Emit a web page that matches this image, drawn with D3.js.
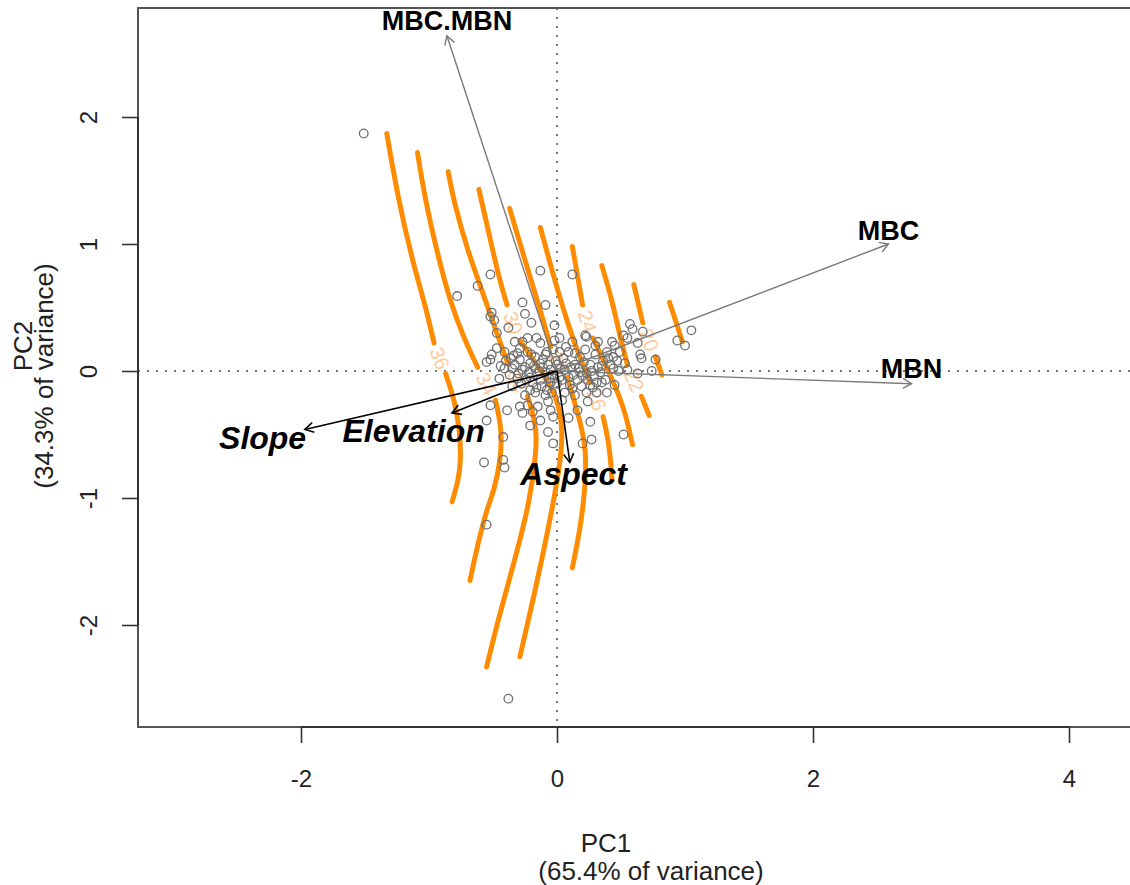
<!DOCTYPE html>
<html>
<head>
<meta charset="utf-8">
<script src="https://cdn.jsdelivr.net/npm/d3@7"></script>
<style>
  body { margin: 0; background: #fff; }
  svg { display: block; font-family: "Liberation Sans", Arial, Helvetica, sans-serif; }
</style>
</head>
<body>
<div id="chart"></div>
<script>
// site scores (PC1, PC2)
var siteX = [-1.51,-0.78,-0.62,-0.52,-0.13,0.12,-0.27,-0.09,-0.51,-0.52,
  -0.49,-0.25,-0.20,-0.02,-0.47,0.22,0.67,0.57,0.59,1.05,
  0.94,1.00,0.63,0.66,0.77,0.63,0.74,0.52,-0.55,-0.42,
  -0.52,-0.51,-0.41,-0.27,-0.29,-0.16,-0.13,-0.29,-0.21,-0.17,
  0.02,-0.08,-0.03,-0.37,-0.31,-0.27,-0.21,-0.16,-0.08,-0.05,
  0.00,0.02,0.52,0.55,0.43,0.45,0.32,0.23,0.12,0.44,
  0.47,0.44,0.48,0.39,0.40,0.53,0.55,0.30,0.32,0.24,
  0.31,0.38,0.09,0.16,0.05,0.09,0.18,0.26,0.23,-0.52,
  -0.39,-0.29,-0.23,-0.27,-0.19,-0.15,-0.07,-0.05,-0.03,-0.07,
  -0.03,-0.57,-0.42,-0.41,-0.55,-0.38,-0.21,-0.17,-0.09,-0.04,
  0.06,0.16,0.24,0.23,0.31,0.39,0.35,0.26,0.20,0.27,
  -0.55,-0.09,-0.13,0.06,0.10,-0.05,0.14,0.18,-0.33,-0.41,
  -0.45,-0.35,-0.25,-0.13,-0.09,-0.23,-0.33,-0.38,0.02,0.22,
  0.34,0.14,0.04,0.09,-0.13,-0.21,0.49,0.65,0.30,-0.02,
  -0.23,-0.34,-0.47,-0.02,-0.17,0.26,0.45,
  -0.35,-0.30,-0.25,-0.22,-0.18,-0.14,-0.11,-0.07,-0.04,-0.01,
  0.03,0.07,0.11,0.13,0.17,0.20,0.21,0.27,0.29,0.35,
  -0.28,-0.24,-0.19,-0.12,-0.06,0.00,0.04,0.12,0.19,0.28,
  -0.40,-0.36,-0.20,-0.11,0.07,0.14,0.36,0.42,-0.44,-0.31];
var siteY = [1.87,0.59,0.67,0.76,0.79,0.76,0.54,0.52,0.46,0.43,
  0.40,0.45,0.38,0.36,0.30,0.28,0.31,0.37,0.33,0.32,
  0.24,0.20,0.22,0.10,0.09,-0.02,0.00,-0.50,-0.39,-0.52,
  0.09,0.13,0.15,0.23,0.18,0.26,0.22,0.09,0.06,0.11,
  0.26,0.15,0.17,-0.03,-0.06,0.01,-0.05,-0.13,-0.15,0.01,
  0.05,-0.05,0.28,0.26,0.23,0.20,0.23,0.27,0.23,0.11,
  0.08,0.02,0.00,0.15,0.10,0.06,0.01,0.13,0.03,-0.07,
  -0.09,-0.07,-0.05,-0.07,0.10,0.15,0.11,0.05,-0.02,-0.27,
  -0.31,-0.28,-0.27,-0.33,-0.32,-0.28,-0.24,-0.31,-0.36,-0.48,
  -0.57,-0.72,-0.70,-0.76,-1.21,-2.58,-0.15,-0.17,-0.19,-0.17,
  -0.17,-0.31,-0.24,-0.17,-0.17,-0.17,-0.09,-0.40,-0.57,-0.54,
  0.07,-0.01,-0.07,0.01,-0.11,-0.09,0.05,-0.01,0.05,0.02,
  -0.06,-0.12,-0.19,0.06,0.13,0.15,0.23,0.34,0.15,0.17,
  -0.01,-0.19,-0.23,-0.37,-0.39,-0.43,0.15,0.13,0.20,0.24,
  0.26,0.12,0.18,-0.06,0.02,-0.11,-0.11,
  0.02,-0.02,0.03,-0.01,0.04,0.00,0.03,0.05,-0.03,0.08,
  0.02,0.06,0.03,-0.03,0.02,-0.04,0.07,0.00,-0.04,0.04,
  -0.10,-0.07,-0.09,-0.12,-0.06,-0.10,-0.07,-0.14,-0.12,-0.13,
  0.08,0.10,0.13,0.09,0.19,0.14,0.08,0.05,0.04,0.14];

// variable loadings (grey arrows)
var varNames = ["MBC.MBN", "MBC", "MBN"];
var varX = [-0.86, 2.59, 2.77];
var varY = [2.64, 1.00, -0.10];
var varLabX = [-0.86, 2.59, 2.77];
var varLabY = [2.76, 1.11, 0.02];

// fitted environmental vectors (black arrows)
var envNames = ["Slope", "Elevation", "Aspect"];
var envX = [-1.97, -0.82, 0.10];
var envY = [-0.46, -0.33, -0.72];
var envLabX = [-2.30, -1.12, 0.13];
var envLabY = [-0.52, -0.47, -0.81];

// surface contours, null marks the break where the level label sits
var levels = [36, 34, 32, 30, 28, 26, 24, 22, 20, 18];
var contourPaths = [
  [[-1.33,1.87],[-1.24,1.35],[-1.13,0.87],[-1.03,0.52],[-0.96,0.22],null,[-0.87,-0.02],[-0.80,-0.23],[-0.76,-0.46],[-0.75,-0.70],[-0.77,-0.86],[-0.82,-1.03]],
  [[-1.09,1.72],[-1.03,1.35],[-0.94,0.95],[-0.84,0.56],[-0.72,0.24],[-0.62,0.03],null,[-0.48,-0.23],[-0.43,-0.46],[-0.44,-0.70],[-0.49,-0.94],[-0.55,-1.09],[-0.62,-1.37],[-0.68,-1.65]],
  [[-0.85,1.57],[-0.81,1.35],[-0.70,0.95],[-0.56,0.56],[-0.45,0.24],[-0.38,0.05],null,[-0.23,-0.20],[-0.16,-0.43],[-0.16,-0.62],[-0.21,-1.02],[-0.33,-1.49],[-0.45,-1.92],[-0.55,-2.33]],
  [[-0.61,1.43],[-0.52,1.03],[-0.45,0.72],[-0.39,0.52],null,[-0.29,0.24],[-0.13,0.01],[0.00,-0.20],[0.05,-0.46],[0.02,-0.78],[-0.07,-1.25],[-0.17,-1.73],[-0.29,-2.25]],
  [[-0.37,1.28],[-0.25,0.87],[-0.13,0.48],[-0.05,0.19],null,[0.08,-0.05],[0.18,-0.39],[0.23,-0.62],[0.22,-0.94],[0.18,-1.25],[0.12,-1.55]],
  [[-0.13,1.13],[-0.02,0.72],[0.10,0.32],[0.20,0.05],[0.26,-0.09],null,[0.36,-0.36],[0.41,-0.58],[0.43,-0.86]],
  [[0.12,0.98],[0.20,0.52],null,[0.28,0.26],[0.38,0.05],[0.45,-0.11],[0.53,-0.31],[0.59,-0.58]],
  [[0.35,0.83],[0.43,0.56],[0.49,0.28],[0.55,0.05],null,[0.66,-0.20],[0.72,-0.35]],
  [[0.60,0.68],[0.67,0.38],null,[0.77,0.11],[0.82,-0.03]],
  [[0.88,0.54],[0.98,0.23]]
];

var xTicks = [-2, 0, 2, 4];
var yTicks = [-2, -1, 0, 1, 2];

var W = 1130, H = 885;
var box = { left: 138, top: 8, right: 1166, bottom: 727 };

var svg = d3.select("#chart").append("svg")
  .attr("width", W)
  .attr("height", H)
  .attr("viewBox", [0, 0, W, H]);

var x = d3.scaleLinear().domain([0, 2]).range([557, 813]);
var y = d3.scaleLinear().domain([0, 2]).range([371, 117]);

svg.append("clipPath").attr("id", "plotclip")
  .append("rect")
    .attr("x", box.left).attr("y", box.top)
    .attr("width", box.right - box.left).attr("height", box.bottom - box.top);

var plot = svg.append("g").attr("clip-path", "url(#plotclip)");

// zero reference lines
plot.append("line")
  .attr("x1", x(0)).attr("x2", x(0))
  .attr("y1", box.top).attr("y2", box.bottom)
  .attr("stroke", "#777").attr("stroke-width", 2).attr("stroke-dasharray", "2,7");
plot.append("line")
  .attr("x1", box.left).attr("x2", box.right)
  .attr("y1", y(0)).attr("y2", y(0))
  .attr("stroke", "#777").attr("stroke-width", 2).attr("stroke-dasharray", "2,7");

// contours
var line = d3.line()
  .defined(d => d !== null)
  .x(d => x(d[0]))
  .y(d => y(d[1]))
  .curve(d3.curveBasis);

plot.selectAll(".contour")
  .data(contourPaths)
  .join("path")
    .attr("class", "contour")
    .attr("d", line)
    .attr("fill", "none")
    .attr("stroke", "#ff8c00")
    .attr("stroke-width", 5)
    .attr("stroke-linecap", "round");

// contour labels go in the break of each line
var labels = [];
contourPaths.forEach(function(p, i) {
  var k = p.indexOf(null);
  if (k < 0) return;
  var a = p[k - 1], b = p[k + 1];
  var x0 = x(a[0]), y0 = y(a[1]), x1 = x(b[0]), y1 = y(b[1]);
  labels.push({
    text: levels[i],
    cx: (x0 + x1) / 2,
    cy: (y0 + y1) / 2,
    ang: Math.atan2(y1 - y0, x1 - x0) * 180 / Math.PI
  });
});

plot.selectAll(".clabel")
  .data(labels)
  .join("text")
    .attr("class", "clabel")
    .attr("transform", d => "translate(" + d.cx + "," + d.cy + ") rotate(" + d.ang + ")")
    .attr("text-anchor", "middle")
    .attr("dy", "0.36em")
    .style("font-size", "20px")
    .attr("fill", "#ffc99a")
    .text(d => d.text);

// sites
plot.selectAll(".site")
  .data(d3.zip(siteX, siteY))
  .join("circle")
    .attr("class", "site")
    .attr("cx", d => x(d[0]))
    .attr("cy", d => y(d[1]))
    .attr("r", 4.3)
    .attr("fill", "none")
    .attr("stroke", "#6f6f6f")
    .attr("stroke-width", 1.3);

function headPath(x1, y1, x2, y2) {
  var a = Math.atan2(y2 - y1, x2 - x1), L = 10, s = Math.PI / 6;
  return "M" + (x2 - L * Math.cos(a - s)) + "," + (y2 - L * Math.sin(a - s)) +
    "L" + x2 + "," + y2 +
    "L" + (x2 - L * Math.cos(a + s)) + "," + (y2 - L * Math.sin(a + s));
}

function drawArrows(cls, xs, ys, color, width) {
  var idx = d3.range(xs.length);
  plot.selectAll("." + cls + "-line")
    .data(idx)
    .join("line")
      .attr("class", cls + "-line")
      .attr("x1", x(0)).attr("y1", y(0))
      .attr("x2", i => x(xs[i])).attr("y2", i => y(ys[i]))
      .attr("stroke", color).attr("stroke-width", width);
  plot.selectAll("." + cls + "-head")
    .data(idx)
    .join("path")
      .attr("class", cls + "-head")
      .attr("d", i => headPath(x(0), y(0), x(xs[i]), y(ys[i])))
      .attr("fill", "none")
      .attr("stroke", color).attr("stroke-width", width);
}

drawArrows("var", varX, varY, "#7a7a7a", 1.4);

plot.selectAll(".varlab")
  .data(varNames)
  .join("text")
    .attr("class", "varlab")
    .attr("x", (d, i) => x(varLabX[i]))
    .attr("y", (d, i) => y(varLabY[i]))
    .attr("dy", "0.36em")
    .attr("text-anchor", "middle")
    .style("font-size", "27px")
    .style("font-weight", "bold")
    .attr("fill", "#000")
    .text(d => d);

drawArrows("env", envX, envY, "#000", 1.6);

plot.selectAll(".envlab")
  .data(envNames)
  .join("text")
    .attr("class", "envlab")
    .attr("x", (d, i) => x(envLabX[i]))
    .attr("y", (d, i) => y(envLabY[i]))
    .attr("dy", "0.36em")
    .attr("text-anchor", "middle")
    .style("font-size", "32px")
    .style("font-weight", "bold")
    .style("font-style", "italic")
    .attr("fill", "#000")
    .text(d => d);

// frame
svg.append("rect")
  .attr("x", box.left).attr("y", box.top)
  .attr("width", box.right - box.left).attr("height", box.bottom - box.top)
  .attr("fill", "none")
  .attr("stroke", "#555")
  .attr("stroke-width", 2);

// axes
var xAxis = svg.append("g")
  .attr("transform", "translate(0," + box.bottom + ")")
  .call(d3.axisBottom(x).tickValues(xTicks).tickSize(16).tickFormat(d => String(d)));
xAxis.select(".domain").remove();
xAxis.selectAll(".tick line").attr("stroke", "#333").attr("stroke-width", 1.6);
xAxis.selectAll(".tick text")
  .attr("y", 60).attr("dy", null)
  .attr("fill", "#222")
  .style("font-size", "24px")
  .style("font-family", "'Liberation Sans', Arial, sans-serif");
xAxis.append("line")
  .attr("x1", x(xTicks[0])).attr("x2", x(xTicks[xTicks.length - 1]))
  .attr("stroke", "#333").attr("stroke-width", 2);

var yAxis = svg.append("g")
  .attr("transform", "translate(" + box.left + ",0)")
  .call(d3.axisLeft(y).tickValues(yTicks).tickSize(16).tickFormat(d => String(d)));
yAxis.select(".domain").remove();
yAxis.selectAll(".tick line").attr("stroke", "#333").attr("stroke-width", 1.6);
yAxis.selectAll(".tick text")
  .attr("x", null).attr("dy", null)
  .attr("text-anchor", "middle")
  .attr("transform", "translate(-41,0) rotate(-90)")
  .attr("fill", "#222")
  .style("font-size", "24px")
  .style("font-family", "'Liberation Sans', Arial, sans-serif");
yAxis.append("line")
  .attr("y1", y(yTicks[0])).attr("y2", y(yTicks[yTicks.length - 1]))
  .attr("stroke", "#333").attr("stroke-width", 2);

// axis titles
svg.append("text")
  .attr("x", 606).attr("y", 852)
  .attr("text-anchor", "middle")
  .style("font-size", "26px")
  .attr("fill", "#222")
  .text("PC1");
svg.append("text")
  .attr("x", 651).attr("y", 880)
  .attr("text-anchor", "middle")
  .style("font-size", "26px")
  .attr("fill", "#222")
  .text("(65.4% of variance)");
svg.append("text")
  .attr("transform", "translate(32,346) rotate(-90)")
  .attr("text-anchor", "middle")
  .style("font-size", "26px")
  .attr("fill", "#222")
  .text("PC2");
svg.append("text")
  .attr("transform", "translate(53,376) rotate(-90)")
  .attr("text-anchor", "middle")
  .style("font-size", "26px")
  .attr("fill", "#222")
  .text("(34.3% of variance)");
</script>
</body>
</html>
